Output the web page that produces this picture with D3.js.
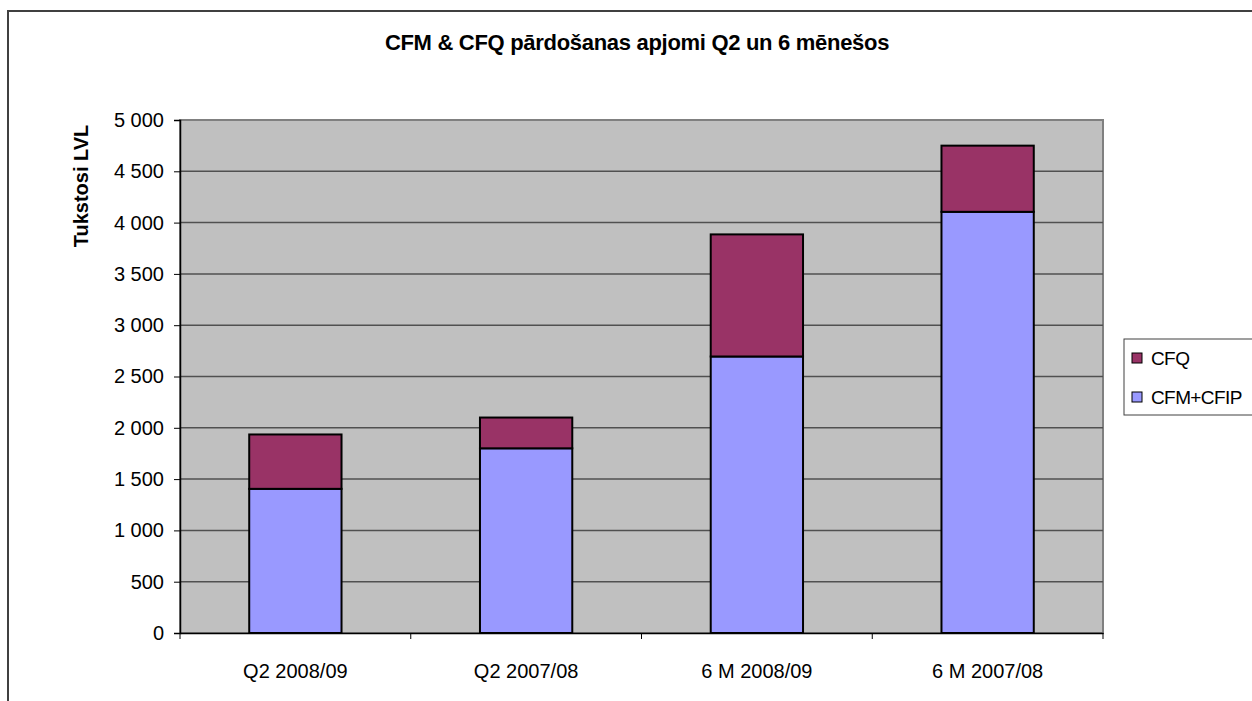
<!DOCTYPE html>
<html>
<head>
<meta charset="utf-8">
<script src="https://cdn.jsdelivr.net/npm/d3@7"></script>
<style>
  body { margin: 0; background: #fff; }
  text { font-family: "Liberation Sans", Arial, sans-serif; }
</style>
</head>
<body>
<div id="chart"></div>
<script>
const categories = ["Q2 2008/09", "Q2 2007/08", "6 M 2008/09", "6 M 2007/08"];
const cfmCfip = [1405, 1800, 2695, 4105];
const cfq = [530, 300, 1190, 645];
const yTicks = [0, 500, 1000, 1500, 2000, 2500, 3000, 3500, 4000, 4500, 5000];
const seriesNames = ["CFQ", "CFM+CFIP"];
const seriesColors = {"CFM+CFIP": "#9999ff", "CFQ": "#993366"};

const width = 1252, height = 701;
const plot = {left: 180, right: 1103, top: 120, bottom: 633};

const svg = d3.select("#chart").append("svg").attr("width", width).attr("height", height);

// outer chart border (runs off the right and bottom edges)
svg.append("rect").attr("x", 8).attr("y", 11).attr("width", 1400).attr("height", 900)
  .attr("fill", "#fff").attr("stroke", "#404040").attr("stroke-width", 2);

svg.append("text").attr("x", 637).attr("y", 50).attr("text-anchor", "middle")
  .attr("font-size", "22px").attr("font-weight", "bold").attr("letter-spacing", "-0.3px")
  .text("CFM & CFQ pārdošanas apjomi Q2 un 6 mēnešos");

const x = d3.scaleBand().domain(categories).range([plot.left, plot.right]).padding(0);
const y = d3.scaleLinear().domain([0, 5000]).range([plot.bottom, plot.top]);
const fmt = d3.formatLocale({decimal: ",", thousands: " ", grouping: [3], currency: ["", ""]}).format(",d");

// plot area
svg.append("rect").attr("x", plot.left).attr("y", plot.top)
  .attr("width", plot.right - plot.left).attr("height", plot.bottom - plot.top)
  .attr("fill", "#c0c0c0").attr("stroke", "#808080").attr("stroke-width", 2);

svg.append("g").selectAll("line").data(yTicks.filter(d => d > 0 && d < 5000)).enter().append("line")
  .attr("x1", plot.left).attr("x2", plot.right)
  .attr("y1", d => y(d)).attr("y2", d => y(d))
  .attr("stroke", "#505050").attr("stroke-width", 1.5);

// stacked bars
const stacked = categories.map((c, i) => ({cat: c, "CFM+CFIP": cfmCfip[i], "CFQ": cfq[i]}));
const stack = d3.stack().keys(["CFM+CFIP", "CFQ"])(stacked);
const barW = x.bandwidth() * 0.4;

svg.append("g").selectAll("g").data(stack).enter().append("g")
  .attr("fill", d => seriesColors[d.key])
  .selectAll("rect").data(d => d).enter().append("rect")
  .attr("x", d => x(d.data.cat) + (x.bandwidth() - barW) / 2)
  .attr("y", d => y(d[1]))
  .attr("width", barW)
  .attr("height", d => y(d[0]) - y(d[1]))
  .attr("stroke", "#000").attr("stroke-width", 2);

// y axis
const yAxis = svg.append("g").attr("transform", `translate(${plot.left},0)`)
  .call(d3.axisLeft(y).tickValues(yTicks).tickFormat(fmt).tickSize(6).tickPadding(10));
yAxis.select(".domain").attr("stroke", "#000").attr("stroke-width", 1.5);
yAxis.selectAll(".tick line").attr("stroke", "#000");
yAxis.selectAll(".tick text").attr("font-size", "20px").attr("fill", "#000")
  .attr("font-family", "Liberation Sans, Arial, sans-serif");

// x axis
const xAxis = svg.append("g").attr("transform", `translate(0,${plot.bottom})`)
  .call(d3.axisBottom(x).tickSize(0).tickPadding(31));
xAxis.select(".domain").attr("stroke", "#000").attr("stroke-width", 1.5);
xAxis.selectAll(".tick text").attr("font-size", "20px").attr("fill", "#000")
  .attr("font-family", "Liberation Sans, Arial, sans-serif");
const bounds = categories.map(c => x(c)).concat([plot.right]);
xAxis.selectAll(".sep").data(bounds).enter().append("line").attr("class", "sep")
  .attr("x1", d => d).attr("x2", d => d).attr("y1", 0).attr("y2", 6)
  .attr("stroke", "#000");

svg.append("text").attr("transform", "rotate(-90)")
  .attr("x", -186).attr("y", 88).attr("text-anchor", "middle")
  .attr("font-size", "20px").attr("font-weight", "bold")
  .text("Tukstosi LVL");

// legend (box clipped by the right edge like the reference)
const legend = svg.append("g").attr("transform", "translate(1124,339)");
legend.append("rect").attr("width", 200).attr("height", 76)
  .attr("fill", "#fff").attr("stroke", "#404040").attr("stroke-width", 1);
seriesNames.forEach((name, i) => {
  const cy = 19 + i * 39;
  legend.append("rect").attr("x", 8).attr("y", cy - 5).attr("width", 10).attr("height", 10)
    .attr("fill", seriesColors[name]).attr("stroke", "#000").attr("stroke-width", 1);
  legend.append("text").attr("x", 27).attr("y", cy).attr("dy", "0.35em")
    .attr("font-size", "19px").attr("letter-spacing", "-0.6px").text(name);
});
</script>
</body>
</html>
